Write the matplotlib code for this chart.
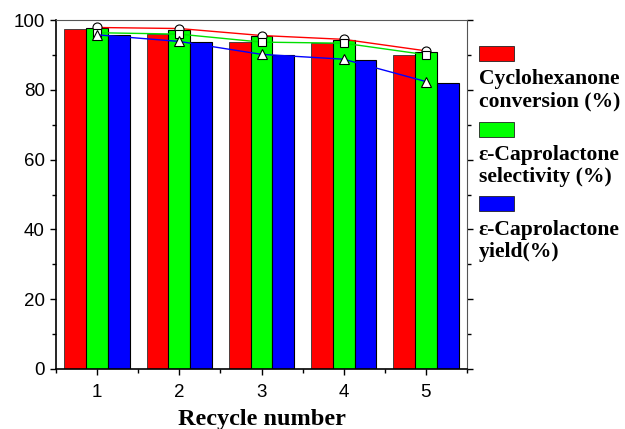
import matplotlib.pyplot as plt
import numpy as np

# data
cycles = [1, 2, 3, 4, 5]
conversion_bar = [97.6, 96.0, 93.6, 93.4, 89.9]
selectivity_bar = [97.8, 97.3, 95.6, 94.4, 90.8]
yield_bar = [95.7, 93.8, 90.0, 88.5, 82.1]

conversion_line = [97.9, 97.6, 95.6, 94.5, 91.2]
selectivity_line = [96.4, 96.0, 93.7, 93.4, 90.1]
yield_line = [95.8, 93.9, 90.2, 88.8, 82.4]

legend_labels = ['Cyclohexanone\nconversion (%)',
                 'ε-Caprolactone\nselectivity (%)',
                 'ε-Caprolactone\nyield(%)']
colors = ['#ff0000', '#00ff00', '#0000ff']

fig = plt.figure(figsize=(6.25, 4.29), dpi=100)
ax = fig.add_axes([0.0896, 0.14, 0.6576, 0.813])

x = np.array(cycles)
w = 0.265
ax.bar(x - w, conversion_bar, w, color=colors[0], edgecolor='#333333', linewidth=0.6, zorder=2)
ax.bar(x, selectivity_bar, w, color=colors[1], edgecolor='black', linewidth=0.8, zorder=2)
ax.bar(x + w, yield_bar, w, color=colors[2], edgecolor='black', linewidth=0.8, zorder=2)

ax.plot(x, conversion_line, color='red', lw=1, marker='o', ms=6.5,
        mfc='white', mec='black', mew=0.8, zorder=4)
ax.plot(x, selectivity_line, color='#00e000', lw=1, marker='s', ms=6,
        mfc='white', mec='black', mew=0.8, zorder=4)
ax.plot(x, yield_line, color='blue', lw=1, marker='^', ms=7,
        mfc='white', mec='black', mew=0.8, zorder=4)

ax.set_xlim(0.5, 5.5)
ax.set_ylim(0, 100)
ax.set_xticks(cycles)
ax.set_xticks(np.arange(0.5, 5.6, 0.5), minor=True)
ax.set_yticks(range(0, 101, 20))
ax.set_yticks(range(0, 101, 10), minor=True)
ax.tick_params(axis='both', which='major', direction='out', length=4.5, width=1,
               labelsize=13.5)
ax.tick_params(axis='both', which='minor', direction='out', length=3, width=1)
ax.tick_params(axis='x', which='major', pad=6)
ax.tick_params(axis='y', which='both', right=True)
for lab in ax.get_xticklabels() + ax.get_yticklabels():
    lab.set_fontfamily('Liberation Sans')
ax.spines['left'].set_linewidth(1.2)
ax.spines['bottom'].set_linewidth(1.2)
ax.spines['top'].set_color('#555555')
ax.spines['right'].set_color('#555555')

ax.set_xlabel('Recycle number', fontfamily='Liberation Serif', fontweight='bold',
              fontsize=17.5, labelpad=6)

# legend drawn as patches with labels beneath
ys = [0.858, 0.681, 0.507]
for c, lab, y in zip(colors, legend_labels, ys):
    fig.patches.append(plt.Rectangle((0.766, y), 0.056, 0.035, transform=fig.transFigure,
                                     facecolor=c, edgecolor='#222222', linewidth=0.6))
    fig.text(0.766, y - 0.02, lab, ha='left', va='top', fontfamily='Liberation Serif',
             fontweight='bold', fontsize=15.6, linespacing=1.12)

fig.savefig('out.png', dpi=100)
